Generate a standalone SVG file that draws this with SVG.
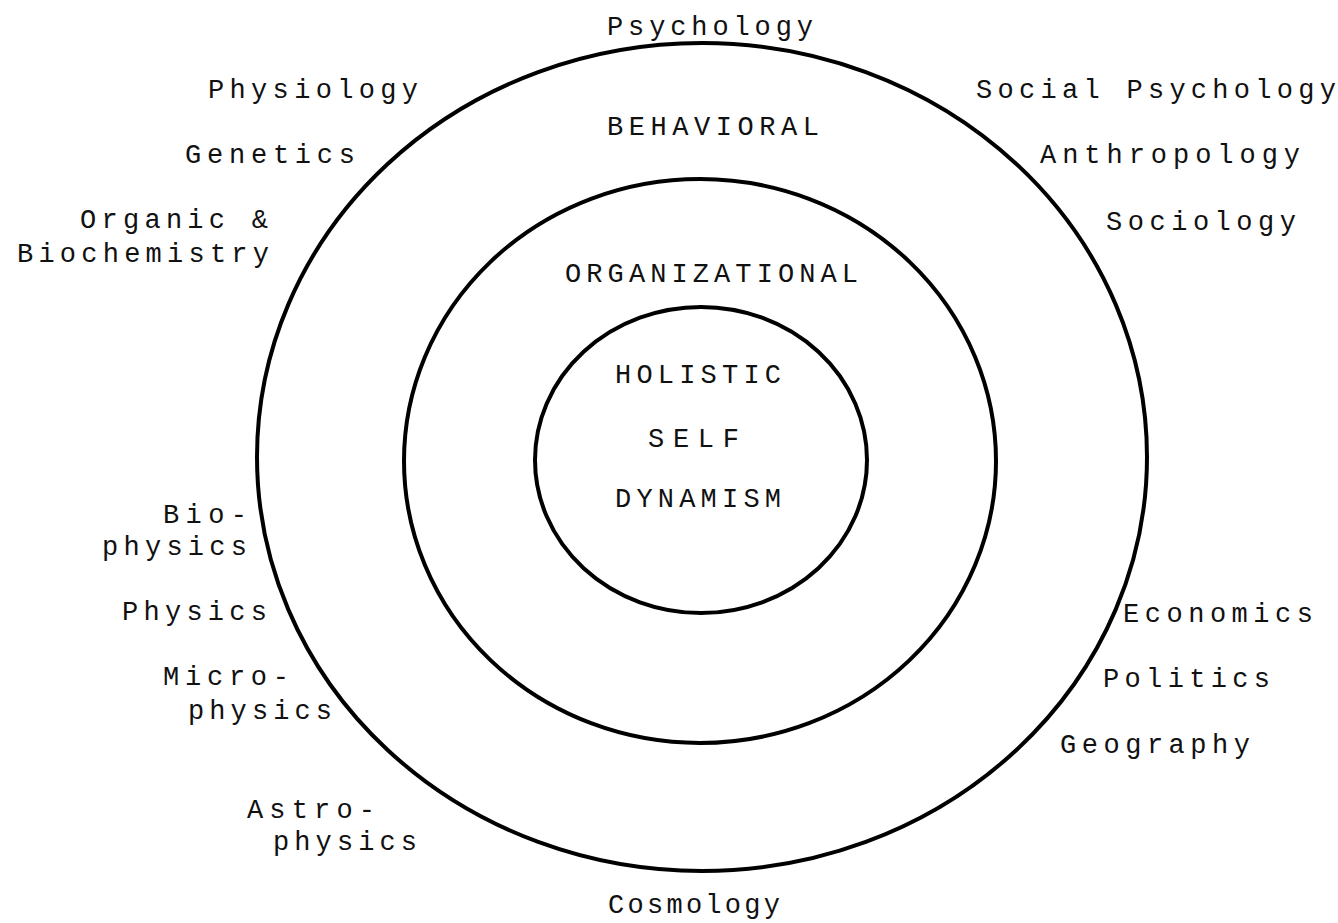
<svg xmlns="http://www.w3.org/2000/svg" width="1338" height="923" viewBox="0 0 1338 923">
<style>
.ring{fill:none;stroke:#000;stroke-width:4}
text{font-family:"Liberation Mono","DejaVu Sans Mono",monospace;font-size:27px;fill:#111}
</style>
<rect width="1338" height="923" fill="#fff"/>
<g id="rings">
<ellipse id="outer" class="ring" cx="702" cy="457" rx="445" ry="414"/>
<ellipse id="middle" class="ring" cx="700" cy="461" rx="296" ry="282"/>
<ellipse id="inner" class="ring" cx="701" cy="460" rx="166" ry="153"/>
</g>
<g id="ring-labels">
<text x="607" y="135" textLength="212" lengthAdjust="spacing">BEHAVIORAL</text>
<text x="565" y="282" textLength="293" lengthAdjust="spacing">ORGANIZATIONAL</text>
<text x="615" y="383" textLength="166" lengthAdjust="spacing">HOLISTIC</text>
<text x="648" y="447" textLength="91" lengthAdjust="spacing">SELF</text>
<text x="615" y="507" textLength="166" lengthAdjust="spacing">DYNAMISM</text>
</g>
<g id="top-labels">
<text x="607" y="35" textLength="206" lengthAdjust="spacing">Psychology</text>
<text x="608" y="913" textLength="172" lengthAdjust="spacing">Cosmology</text>
</g>
<g id="left-labels">
<text x="208" y="98" textLength="210" lengthAdjust="spacing">Physiology</text>
<text x="185" y="163" textLength="170" lengthAdjust="spacing">Genetics</text>
<text x="80" y="228" textLength="188" lengthAdjust="spacing">Organic &amp;</text>
<text x="17" y="262" textLength="252" lengthAdjust="spacing">Biochemistry</text>
<text x="163" y="523" textLength="84" lengthAdjust="spacing">Bio-</text>
<text x="102" y="555" textLength="145" lengthAdjust="spacing">physics</text>
<text x="122" y="620" textLength="145" lengthAdjust="spacing">Physics</text>
<text x="163" y="685" textLength="126" lengthAdjust="spacing">Micro-</text>
<text x="188" y="719" textLength="144" lengthAdjust="spacing">physics</text>
<text x="247" y="818" textLength="128" lengthAdjust="spacing">Astro-</text>
<text x="273" y="850" textLength="144" lengthAdjust="spacing">physics</text>
</g>
<g id="right-labels">
<text x="976" y="98" textLength="360" lengthAdjust="spacing">Social Psychology</text>
<text x="1040" y="163" textLength="260" lengthAdjust="spacing">Anthropology</text>
<text x="1106" y="230" textLength="190" lengthAdjust="spacing">Sociology</text>
<text x="1123" y="622" textLength="190" lengthAdjust="spacing">Economics</text>
<text x="1103" y="687" textLength="167" lengthAdjust="spacing">Politics</text>
<text x="1060" y="753" textLength="190" lengthAdjust="spacing">Geography</text>
</g>
</svg>
